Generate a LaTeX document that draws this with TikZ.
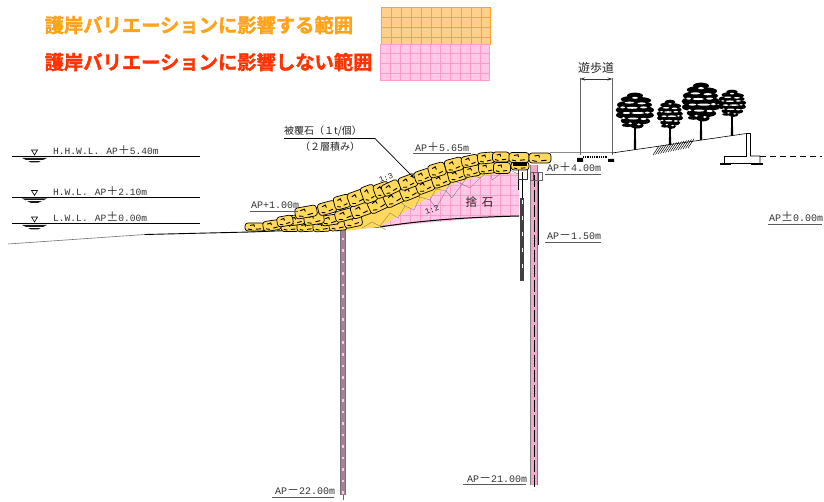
\documentclass[tikz,border=0pt]{standalone}
\usepackage{fontspec}
\setmainfont{Liberation Mono}
\newfontfamily\cjk{Noto Sans CJK JP}
\newfontfamily\ttlf{Noto Sans CJK JP Bold}[FakeBold=1.6]
\usetikzlibrary{arrows.meta}
\definecolor{orgT}{HTML}{FFA31A}
\definecolor{redT}{HTML}{FF3300}
\definecolor{orgF}{HTML}{FFD08C}
\definecolor{orgL}{HTML}{F9A52E}
\definecolor{pnkF}{HTML}{FFC8E6}
\definecolor{pnkL}{HTML}{FF9CCB}
\definecolor{stone}{HTML}{FFD95C}
\definecolor{pile}{HTML}{F4A6CE}
\definecolor{pileD}{HTML}{A87F98}
\tikzset{
 titleT/.style={inner sep=0,anchor=west,font=\ttlf\fontsize{19.3}{20}\selectfont},
 lbl/.style={inner sep=0,anchor=base west,font=\fontsize{10}{11}\selectfont,text=black!80},
 lblw/.style={inner sep=0,anchor=base west,font=\fontsize{9.6}{11}\selectfont,text=black!80},
 jp/.style={inner sep=0,font=\cjk\fontsize{10}{11}\selectfont,text=black!85},
 uline/.style={line width=.8pt,black!65},
 wl/.style={line width=.8pt,black},
 stonep/.style={draw=black,line width=.7pt,fill=stone,rounded corners=3pt},
 crack/.style={line width=.9pt,black},
 rubble/.style={line width=.3pt,black!55},
}
\newcommand\Zpl{{\cjk\fontsize{12}{12}\selectfont ＋}}
\newcommand\Zmi{{\cjk\fontsize{12}{12}\selectfont －}}
\newcommand\Zpm{{\cjk\fontsize{12}{12}\selectfont ±}}
\newcommand\stn[5]{%
 \begin{scope}[shift={(#1,#2)},rotate=#5]
  \draw[stonep] (-#3,-#4) rectangle (#3,#4);
  \draw[crack] (-#3*.5,-#4*.4) -- (-#3*.1,-#4*.55) -- (-#3*.05,-#4*.1);
  \draw[crack] (#3*.1,#4*.55) -- (#3*.6,#4*.45);
  \draw[crack] (-#3*.7,#4*.5) -- (-#3*.3,#4*.7);
 \end{scope}}
\newcommand\wlmark[1]{%
 \draw[line width=.6pt,fill=white] (31.5,#1-6.5) -- (37.5,#1-6.5) -- (34.5,#1-1.5) -- cycle;
 \fill[black!90] (22,#1+1.5) -- (47,#1+1.5) -- (38,#1+6) -- (31,#1+6) -- cycle;
 \draw[white,line width=.25pt] (26,#1+3.2) -- (43,#1+3.2);}
% x y halfwidth height(crown) base
\newcommand\treeX[5]{%
 \begin{scope}[shift={(#1,#2)}]
  \fill[black] (-.6,#4*.7) -- (.6,#4*.7) -- (1.2,#5) -- (-1.2,#5) -- cycle;
  \begin{scope}[x=#3pt,y=-#4pt]
   \foreach \a/\b/\c/\d in {0/.07/.42/.08, -.15/.17/.6/.09, .25/.2/.6/.09, -.45/.32/.5/.1, .15/.32/.75/.1,
     -.72/.46/.3/.09, .5/.46/.5/.1, -.1/.48/.7/.1, -.6/.6/.4/.09, .15/.62/.7/.1, .7/.6/.3/.08,
     -.2/.75/.55/.1, .3/.76/.5/.09, -.4/.87/.3/.05, .1/.88/.35/.08}
     {\fill[black] (\a,\b) ellipse [x radius=\c,y radius=\d];}
   \foreach \a/\b/\c in {-.3/.26/.25, .35/.28/.22, -.15/.4/.3, .45/.39/.18, -.65/.39/.12, .15/.54/.35, -.45/.54/.2, .65/.53/.12,
     -.1/.69/.28, .45/.7/.16, -.6/.68/.1, 0/.13/.15, .2/.85/.1, -.25/.82/.1}
     {\fill[white] (\a,\b) ellipse [x radius=\c,y radius=.027];}
  \end{scope}
 \end{scope}}
\begin{document}
\begin{tikzpicture}[x=1pt,y=-1pt]
\useasboundingbox (0,0) rectangle (824,502);
\fill[white] (0,0) rectangle (824,502);
% legend
\node[titleT,text=orgT] (t1) at (44.5,25) {護岸バリエーションに影響する範囲};
\node[titleT,text=redT] (t2) at (44.5,62) {護岸バリエーションに影響しない範囲};
\fill[orgF] (381,7) rectangle (490,44);
\foreach \x in {391,401,...,481} \draw[orgL,line width=.5pt] (\x,7) -- (\x,44);
\foreach \y in {17,27,37} \draw[orgL,line width=.5pt] (381,\y) -- (490,\y);
\draw[orgL,line width=.8pt] (381,7) rectangle (490,44);
\fill[pnkF] (380,44) rectangle (489,80);
\foreach \x in {390,400,...,480} \draw[pnkL,line width=.5pt] (\x,44) -- (\x,80);
\foreach \y in {53,63,73} \draw[pnkL,line width=.5pt] (380,\y) -- (489,\y);
\draw[pnkL,line width=.8pt] (380,44) rectangle (489,80);
% water levels
\draw[wl] (12,156.5) -- (200,156.5); \wlmark{156.5}
\draw[wl] (12,197) -- (200,197); \wlmark{197}
\draw[wl] (12,223.5) -- (200,223.5); \wlmark{223.5}
\node[lblw] (hhwl) at (53,155) {H.H.W.L.\hspace{7pt}AP\Zpl 5.40m};
\node[lblw] (hwl) at (53,196) {H.W.L.\hspace{7pt}AP\Zpl 2.10m};
\node[lblw] (lwl) at (53,222) {L.W.L.\hspace{7pt}AP\Zpm 0.00m};
% ground
\draw[black!55,line width=.6pt] (8,244) -- (145,234.5);
\draw[black,line width=.9pt] (145,234.5) -- (250,232) -- (380,227);
% yellow filter layer
\fill[stone] (335,232) -- (380,205) -- (455,172) -- (500,162) -- (500,175) -- (457,182) -- (420,203) -- (380,227) -- cycle;
% pink rubble mound
\begin{scope}
 \clip (380,227) -- (420,203) -- (457,182) -- (497,173) -- (519,173) -- (519,216) -- (470,219) -- cycle;
 \fill[pnkF] (370,165) rectangle (525,232);
 \foreach \x in {390,400,...,520} \draw[pnkL,line width=.4pt] (\x,165) -- (\x,232);
 \foreach \y in {175,185,...,225} \draw[pnkL,line width=.4pt] (370,\y) -- (525,\y);
\end{scope}
\draw[black,line width=1pt] (380,227) .. controls (430,219) and (480,217) .. (519,216);
\draw[rubble] (362,228) -- (372,222) -- (380,226) -- (390,213) -- (398,218) -- (405,206) -- (414,210) -- (420,197) -- (430,200) -- (436,189) -- (446,191) -- (452,180) -- (462,184) -- (470,174) -- (480,178) -- (490,170) -- (500,174) -- (510,170) -- (518,174);
\draw[rubble] (380,226) -- (386,230) (405,206) -- (398,200) (420,197) -- (414,192) (436,189) -- (430,184) (452,180) -- (447,175) (470,174) -- (465,168) (462,184) -- (470,188) -- (480,178) (446,191) -- (452,198) -- (462,184) (430,200) -- (436,208) -- (446,191) (490,170) -- (492,180) -- (500,174);
% piles
\fill[pileD] (340.5,205) rectangle (345.5,495);
\draw[black!55,line width=.7pt] (340.5,205) -- (340.5,495) (345.5,205) -- (345.5,495);
\draw[pnkF,line width=1.4pt,dash pattern=on 2.5pt off 9pt] (343,215) -- (343,495);
\draw[black!60,line width=1pt] (343,495) -- (343,500);
\fill[pile] (530.5,165) rectangle (537.5,485);
\draw[black!50,line width=.5pt] (530.5,165) -- (530.5,485) (537.5,165) -- (537.5,485);
\draw[black,line width=.7pt,dash pattern=on 12pt off 3pt] (534.8,175) -- (534.8,490);
\draw[black,line width=.7pt] (538.5,175) -- (538.5,245);
\fill[black!75] (520,198) rectangle (524,281);
\draw[white,line width=.7pt,dash pattern=on 4pt off 12pt] (522,200) -- (522,280);
\draw[black,line width=.7pt] (518,172) -- (518,190) (522,172) -- (522,198);
\draw[black!80,line width=.6pt] (518,166) rectangle (527,179);
\draw[black!60,line width=.6pt] (530,172) rectangle (542,180);
\draw[black!70,line width=.5pt] (533,172) -- (533,180) (538,172) -- (538,180);
% armour stones, bottom and inner layer
\foreach \x/\y/\a/\b/\r in {290/227/9/4.5/0,306/227/9/4.5/3,322/226.5/9/5/3,338/225/9/5.5/5,353/221/9/6/12,330/220/9/5/8,
  296/220/9/5/8,314/219/10/5.5/8,345/215/10/5.5/15,361/210/10/6.5/20,378/204/10/7/25,394/198/10/7/25,410/192/9.5/7/22,425/186/9/6.5/20,441/180/9/6.5/18,457/175/9/6/15,472/171/8.5/5.5/10,487/168/8.5/5.5/5,502/168/8.5/5.5/0,520/166/9/4/0}
 {\stn{\x}{\y}{\a}{\b}{\r}}
% armour stones, outer layer
\foreach \x/\y/\a/\b/\r in {255/227/10/4/0,272/225.5/9/5/8,285/221/8/5/10,306/212/11/5.5/10,327/208/9/6/15,342/202/8/6.5/15,357/198/9/7/20,369/194/7/8.5/20,382/190/8/7/20,391/188/9/6/25,408/182/9/6.5/20,423/176/8.5/6/18,437/170/8.5/6.5/16,454/165/9/6.5/15,470/161/8.5/5.5/12,486/158/8.5/5.5/5,501/157/8.5/5/0,519/157.5/10/5/0,540/158/11/5/0}
 {\stn{\x}{\y}{\a}{\b}{\r}}
\fill[black] (513,163.5) rectangle (527,166);
% walkway
\draw[black!45,line width=.7pt] (550,152.5) -- (612,152.5);
\draw[black!60,line width=.8pt] (580,78) -- (580,155);
\draw[black!60,line width=.8pt] (612.5,78) -- (612.5,155);
\draw[black,line width=2pt,dash pattern=on 1pt off .8pt] (583,157) -- (608,157);
\fill[black] (577,158) rectangle (583,162) (608,159) rectangle (614,162);
\coordinate (dimL) at (580,79);
\coordinate (dimR) at (612.5,79);
\draw[black!80,line width=.7pt,{Stealth[length=5pt,width=3pt]}-{Stealth[length=5pt,width=3pt]}] (dimL) -- (dimR);
\node[jp,font=\cjk\fontsize{12}{12}\selectfont] (walk) at (596,68) {遊歩道};
% bank and wall
\draw[black,line width=.6pt] (612,153) -- (746.5,133.5) -- (750.5,133.5) -- (750.5,156) -- (760,156) -- (760,164);
\draw[black,line width=.6pt] (746.5,133.5) -- (746.5,156) -- (724,156) -- (724,164);
\draw[black,line width=1.8pt] (720,164) -- (763,164);
\draw[white,line width=.6pt] (731,164) -- (751,164);
\draw[black,line width=.7pt,dash pattern=on 6pt off 4pt] (760,156) -- (822,156);
\foreach \i in {0,2.5,...,35} \draw[black,line width=.45pt] (653+\i,155-\i*.2) -- (659+\i,146-\i*.2);
% trees
\treeX{635}{93}{19}{37}{57}
\treeX{670}{100}{13}{30}{45}
\treeX{701}{83}{19}{40}{57}
\treeX{732}{90}{14}{28}{46}
% labels
\node[jp] (sl1) at (386,178) [rotate=20,font=\fontsize{8}{8}\selectfont] {1:3};
\node[jp] (sl2) at (432,210) [rotate=20,font=\fontsize{8}{8}\selectfont] {1:2};
\node[jp,font=\cjk\fontsize{11.5}{11}\selectfont] (sute) at (479.5,202) {捨\hspace{5pt}石};
\node[jp] (armA) at (323,131) {被覆石（１t/個）};
\node[jp] (armB) at (330,147) {（２層積み）};
\coordinate (ldA) at (284,138.5);
\coordinate (ldB) at (375,138.5);
\coordinate (ldC) at (414,178);
\draw[black,line width=.7pt,-{Stealth[length=4pt,width=3pt]}] (ldA) -- (ldB) -- (ldC);
\node[lbl] (a1) at (415,152) {AP\Zpl 5.65m};
\draw[uline] (413,153.5) -- (471,153.5);
\node[lbl] (a2) at (251,209) {AP+1.00m};
\draw[uline] (250,211.5) -- (298,211.5);
\node[lbl] (a3) at (547,172) {AP\Zpl 4.00m};
\draw[uline] (545,174.5) -- (601,174.5);
\node[lbl] (a4) at (547,240) {AP\Zmi 1.50m};
\draw[uline] (545,242.5) -- (601,242.5);
\node[lbl] (a5) at (275,494.5) {AP\Zmi 22.00m};
\draw[uline] (272,497) -- (334,497);
\node[lbl] (a6) at (467,482) {AP\Zmi 21.00m};
\draw[uline] (463,484.5) -- (526,484.5);
\node[lbl] (a7) at (769,222) {AP\Zpm 0.00m};
\draw[uline] (768,224.5) -- (822,224.5);
\end{tikzpicture}
\end{document}
